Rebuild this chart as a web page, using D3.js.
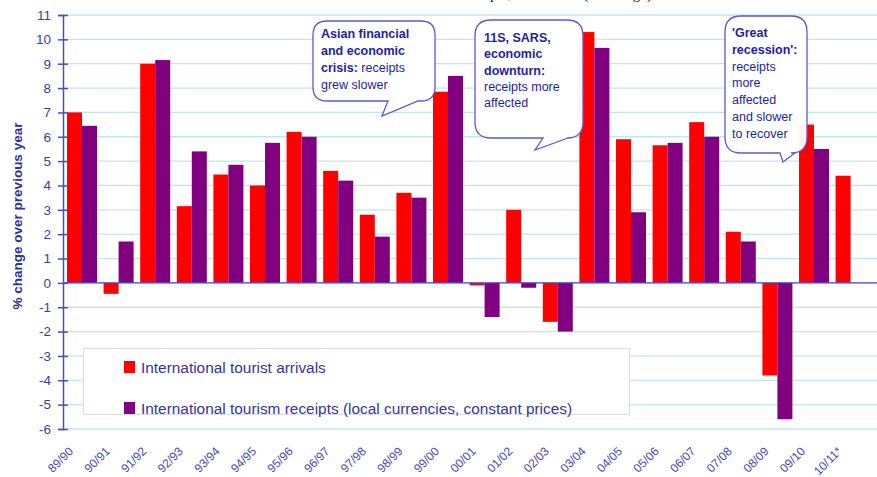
<!DOCTYPE html>
<html>
<head>
<meta charset="utf-8">
<script src="https://cdn.jsdelivr.net/npm/d3@7"></script>
<style>
  body { margin: 0; background: #fff; }
  svg { display: block; font-family: "Liberation Sans", Arial, sans-serif; }
</style>
</head>
<body>
<div id="chart"></div>
<script>
// data
const categories = ["89/90","90/91","91/92","92/93","93/94","94/95","95/96","96/97","97/98","98/99","99/00",
  "00/01","01/02","02/03","03/04","04/05","05/06","06/07","07/08","08/09","09/10","10/11*"];
const arrivals = [7.0, -0.45, 9.0, 3.15, 4.45, 4.0, 6.2, 4.6, 2.8, 3.7, 7.85,
  -0.1, 3.0, -1.6, 10.3, 5.9, 5.65, 6.6, 2.1, -3.8, 6.5, 4.4];
const receipts = [6.45, 1.7, 9.15, 5.4, 4.85, 5.75, 6.0, 4.2, 1.9, 3.5, 8.5,
  -1.4, -0.2, -2.0, 9.65, 2.9, 5.75, 6.0, 1.7, -5.6, 5.5, null];
const yTicks = [-6,-5,-4,-3,-2,-1,0,1,2,3,4,5,6,7,8,9,10,11];
const seriesNames = ["International tourist arrivals",
  "International tourism receipts (local currencies, constant prices)"];
const seriesColors = ["#ff0000", "#800080"];

const notes = [
  [["Asian financial", true], ["and economic", true], ["crisis:", true, " receipts"], ["grew slower", false]],
  [["11S, SARS,", true], ["economic", true], ["downturn:", true], ["receipts more", false], ["affected", false]],
  [["'Great", true], ["recession':", true], ["receipts", false], ["more", false], ["affected", false], ["and slower", false], ["to recover", false]]
];

const W = 877, H = 477;
const svg = d3.select("#chart").append("svg").attr("width", W).attr("height", H);

const y = d3.scaleLinear().domain([-6, 11]).range([429, 15]);
const x = d3.scaleBand().domain(categories).range([64, 868.6]).paddingInner(0.18).paddingOuter(0.082);
const xs = d3.scaleBand().domain([0, 1]).range([0, x.bandwidth()]);

// title (cut off at the top in the source)
svg.append("text").attr("x", 652).attr("y", -1).attr("text-anchor", "end")
  .attr("font-family", "Liberation Serif, Times New Roman, serif").attr("font-size", 15).attr("fill", "#111")
  .text("International tourist arrivals and receipts, 1990-2011 (% change)");

// grid
svg.append("g").selectAll("line").data(yTicks).join("line")
  .attr("x1", 63).attr("x2", W).attr("y1", d => y(d)).attr("y2", d => y(d))
  .attr("stroke", "#bfe6f6").attr("stroke-width", 1.3);

// bars
const groups = svg.append("g").selectAll("g").data(categories).join("g")
  .attr("transform", d => `translate(${x(d)},0)`);
groups.selectAll("rect").data((d, i) => [arrivals[i], receipts[i]].map((v, s) => ({v, s})).filter(o => o.v !== null))
  .join("rect")
  .attr("x", d => xs(d.s)).attr("width", xs.bandwidth())
  .attr("y", d => y(Math.max(0, d.v))).attr("height", d => Math.abs(y(d.v) - y(0)))
  .attr("fill", d => seriesColors[d.s]);

// zero line
svg.append("line").attr("x1", 63).attr("x2", W).attr("y1", y(0)).attr("y2", y(0))
  .attr("stroke", "#4b4bc6").attr("stroke-width", 1.2);

// y axis
const yAxis = svg.append("g").attr("transform", "translate(63,0)")
  .call(d3.axisLeft(y).tickValues(yTicks).tickSize(5).tickPadding(7).tickFormat(d => String(d)));
yAxis.select(".domain").attr("stroke", "#4b4bc6").attr("stroke-width", 1.5);
yAxis.selectAll(".tick line").attr("stroke", "#4b4bc6").attr("stroke-width", 1.5).attr("x2", 5).attr("x1", -5);
yAxis.selectAll(".tick text").attr("fill", "#3c3ca8").attr("font-size", 13.5).attr("font-family", "Liberation Sans, Arial, sans-serif");

svg.append("text").attr("transform", "translate(22,216) rotate(-90)").attr("text-anchor", "middle")
  .attr("fill", "#2f2f9a").attr("font-size", 13.5).attr("font-weight", "bold")
  .text("% change over previous year");

// x labels
svg.append("g").selectAll("text").data(categories).join("text")
  .attr("transform", d => `translate(${x(d) + x.bandwidth() / 2 - 8},452) rotate(-45)`)
  .attr("text-anchor", "end").attr("fill", "#4848b8").attr("font-size", 12)
  .text(d => d);

// legend
const lg = svg.append("g");
lg.append("rect").attr("x", 83.5).attr("y", 348.5).attr("width", 546).attr("height", 66)
  .attr("fill", "#fff").attr("stroke", "#dcdce8");
seriesNames.forEach((n, i) => {
  lg.append("rect").attr("x", 124).attr("y", 361 + i * 41).attr("width", 11).attr("height", 12).attr("fill", seriesColors[i]);
  lg.append("text").attr("x", 141).attr("y", 373 + i * 41).attr("fill", "#34349e").attr("font-size", 15.4).text(n);
});

// callouts
function bubble(bx, by, w, h, r, t1, t2, px, py) {
  return `M${bx + r},${by} H${bx + w - r} Q${bx + w},${by} ${bx + w},${by + r} V${by + h - r} Q${bx + w},${by + h} ${bx + w - r},${by + h}` +
    ` H${t2} L${px},${py} L${t1},${by + h} H${bx + r} Q${bx},${by + h} ${bx},${by + h - r} V${by + r} Q${bx},${by} ${bx + r},${by} Z`;
}
const boxes = [
  {b: [313, 21, 122, 80, 14, 388, 418, 382, 116], tx: 321, ty: 38, lh: 17},
  {b: [475, 20, 108, 118, 16, 543, 568, 535, 150], tx: 484, ty: 42, lh: 16.3},
  {b: [725, 16, 82, 137, 16, 780, 795, 783, 162], tx: 732, ty: 37, lh: 16.8}
];
boxes.forEach((c, k) => {
  svg.append("path").attr("d", bubble(...c.b)).attr("fill", "#fff").attr("fill-opacity", 0.95)
    .attr("stroke", "#5a5ad2").attr("stroke-width", 1.3);
  notes[k].forEach((ln, j) => {
    const t = svg.append("text").attr("x", c.tx).attr("y", c.ty + j * c.lh).attr("font-size", 12.5).attr("fill", "#1e1ea8");
    t.append("tspan").attr("font-weight", ln[1] ? "bold" : "normal").text(ln[0]);
    if (ln[2]) t.append("tspan").text(ln[2]);
  });
});
</script>
</body>
</html>
